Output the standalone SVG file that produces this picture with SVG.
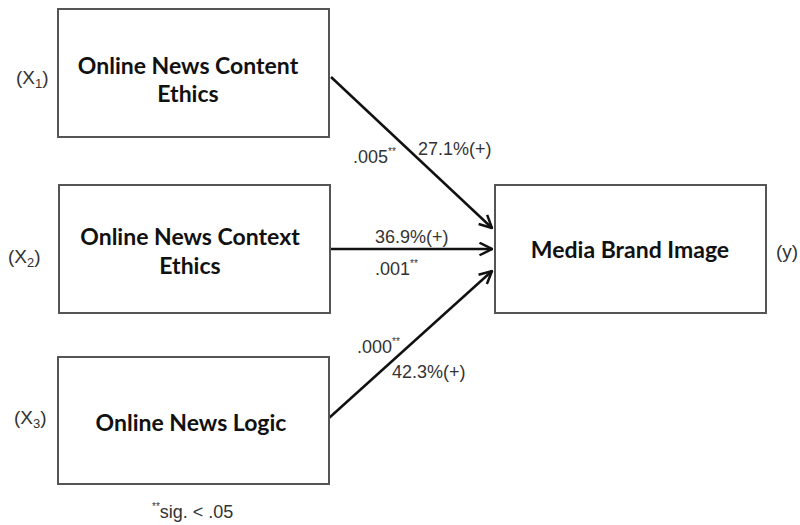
<svg xmlns="http://www.w3.org/2000/svg" width="800" height="525" viewBox="0 0 800 525">
<defs>
<style>
.box{fill:#fff;stroke:#555;stroke-width:2}
.nt{font-family:Lato,"Liberation Sans",sans-serif;font-weight:bold;font-size:23px;fill:#111;text-anchor:middle}
.var{font-family:"Liberation Sans",Arial,sans-serif;font-size:19px;fill:#333}
.lbl{font-family:"Liberation Sans",Arial,sans-serif;font-size:18px;fill:#333}
.sup{font-size:10px}
.edge{stroke:#111;stroke-width:2.5;fill:none;marker-end:url(#ah)}
</style>
<marker id="ah" viewBox="0 0 12 12" refX="11" refY="6" markerWidth="6" markerHeight="6" orient="auto" markerUnits="strokeWidth">
<path d="M1,1 L11,6 L1,11" fill="none" stroke="#111" stroke-width="2"/>
</marker>
</defs>
<rect width="800" height="525" fill="#fff"/>
<g id="connectors">
<line class="edge" x1="331" y1="77" x2="492" y2="228"/>
<line class="edge" x1="330" y1="249" x2="492" y2="249"/>
<line class="edge" x1="329" y1="418" x2="492" y2="271"/>
</g>
<g id="x1">
<rect class="box" x="58" y="9" width="271" height="128"/>
<text class="nt" x="188" y="74">Online News Content</text>
<text class="nt" x="188" y="102">Ethics</text>
<text class="var" x="16" y="84">(X<tspan font-size="13" dy="4">1</tspan><tspan dy="-4">)</tspan></text>
</g>
<g id="x2">
<rect class="box" x="59" y="185" width="271" height="128"/>
<text class="nt" x="190" y="245">Online News Context</text>
<text class="nt" x="190" y="274">Ethics</text>
<text class="var" x="8" y="263">(X<tspan font-size="13" dy="4">2</tspan><tspan dy="-4">)</tspan></text>
</g>
<g id="x3">
<rect class="box" x="58" y="357" width="271" height="127"/>
<text class="nt" x="191" y="431">Online News Logic</text>
<text class="var" x="14" y="424">(X<tspan font-size="13" dy="4">3</tspan><tspan dy="-4">)</tspan></text>
</g>
<g id="y">
<rect class="box" x="495" y="185" width="271" height="128"/>
<text class="nt" x="630" y="258">Media Brand Image</text>
<text class="var" x="776" y="258">(y)</text>
</g>
<g id="labels">
<text class="lbl" x="418" y="155">27.1%(+)</text>
<text class="lbl" x="353" y="163">.005<tspan class="sup" dy="-8">**</tspan></text>
<text class="lbl" x="375" y="243">36.9%(+)</text>
<text class="lbl" x="375" y="275">.001<tspan class="sup" dy="-8">**</tspan></text>
<text class="lbl" x="357" y="353">.000<tspan class="sup" dy="-8">**</tspan></text>
<text class="lbl" x="392" y="378">42.3%(+)</text>
<text class="lbl" x="152" y="518"><tspan class="sup" dy="-8">**</tspan><tspan dy="8">sig. &lt; .05</tspan></text>
</g>
</svg>
